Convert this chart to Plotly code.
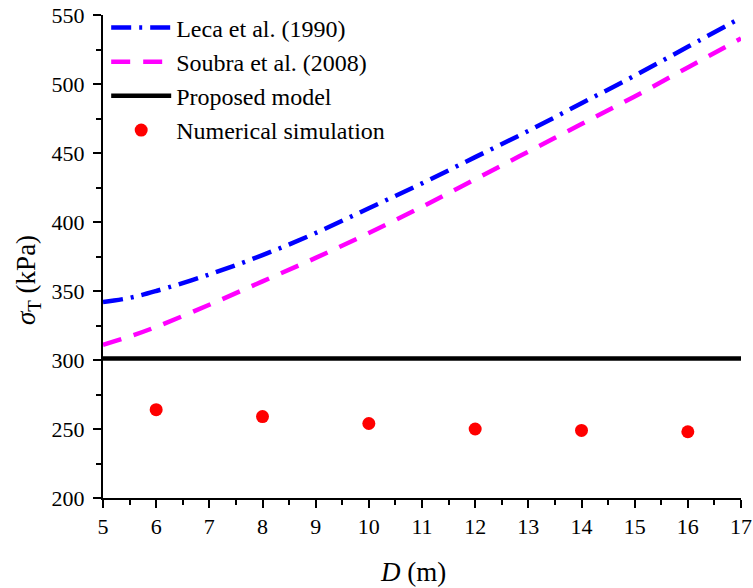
import plotly.graph_objects as go

D_curve = [5, 5.5, 6, 7, 8, 9, 10, 11, 12, 13, 14, 15, 16, 17]
leca = [342, 345, 350, 362, 376, 392, 410, 428, 447, 466, 486, 506, 527, 548]
soubra = [311, 317, 324, 340, 357, 374, 392, 411, 431, 451, 471, 491, 512, 533]
D_prop = [5, 17]
proposed = [301, 301]
D_num = [6, 8, 10, 12, 14, 16]
numerical = [264, 259, 254, 250, 249, 248]

FONT = "Liberation Serif"

fig = go.Figure()
fig.add_trace(go.Scatter(x=D_curve, y=leca, mode="lines", name="Leca et al. (1990)",
                         line=dict(color="#0000ff", width=4.5, dash="20px,8px,3px,8px"),
                         line_shape="spline"))
fig.add_trace(go.Scatter(x=D_curve, y=soubra, mode="lines", name="Soubra et al. (2008)",
                         line=dict(color="#ff00ff", width=4.5, dash="19px,13px"),
                         line_shape="spline"))
fig.add_trace(go.Scatter(x=D_prop, y=proposed, mode="lines", name="Proposed model",
                         line=dict(color="black", width=4.5)))
fig.add_trace(go.Scatter(x=D_num, y=numerical, mode="markers", name="Numerical simulation",
                         marker=dict(color="#ff0000", size=13)))

PW, PH = 638, 483
fig.update_layout(
    width=753, height=588,
    margin=dict(l=103, r=12, t=15, b=90, autoexpand=False),
    plot_bgcolor="white", paper_bgcolor="white",
    font=dict(family=FONT, size=22, color="black"),
    showlegend=True,
    legend=dict(x=0.005, y=1.02, xanchor="left", yanchor="top",
                bgcolor="rgba(0,0,0,0)", font=dict(family=FONT, size=24),
                itemwidth=60, tracegroupgap=0),
    annotations=[
        dict(text="<i>σ</i><sub>T</sub> (kPa)", textangle=-90,
             xref="paper", yref="paper", x=(28 - 103) / PW, y=(498 - 280) / PH,
             xanchor="center", yanchor="middle", showarrow=False,
             font=dict(family=FONT, size=27, color="black")),
        dict(text="<i>D</i> (m)",
             xref="paper", yref="paper", x=(413 - 103) / PW, y=(498 - 572) / PH,
             xanchor="center", yanchor="middle", showarrow=False,
             font=dict(family=FONT, size=27, color="black")),
    ],
)
fig.update_xaxes(
    range=[5, 17], dtick=1, tick0=5, automargin=False,
    showline=True, linecolor="black", linewidth=2,
    ticks="outside", ticklen=8, tickwidth=2, tickcolor="black",
    minor=dict(ticks="outside", ticklen=5, tickwidth=2, tickcolor="black", dtick=0.5),
    showgrid=False, zeroline=False,
    tickfont=dict(family=FONT, size=22),
)
fig.update_yaxes(
    range=[200, 550], dtick=50, tick0=200, automargin=False,
    showline=True, linecolor="black", linewidth=2,
    ticks="outside", ticklen=8, tickwidth=2, tickcolor="black",
    minor=dict(ticks="outside", ticklen=5, tickwidth=2, tickcolor="black", dtick=25),
    showgrid=False, zeroline=False,
    ticklabelstandoff=4,
    tickfont=dict(family=FONT, size=22),
)

fig.write_html("out.html")
